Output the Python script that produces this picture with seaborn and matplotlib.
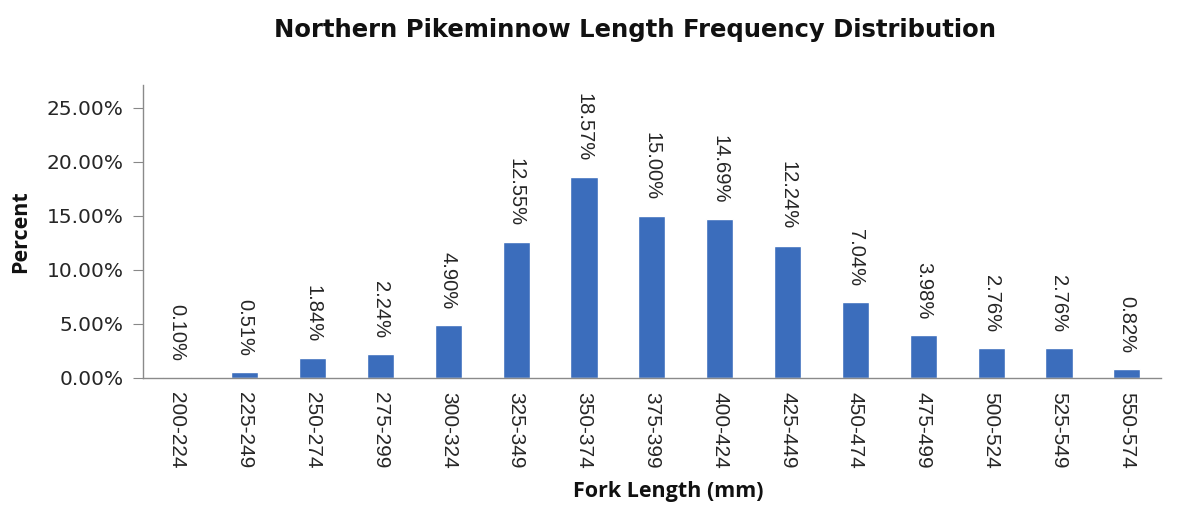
import matplotlib
matplotlib.use("Agg")
import matplotlib.pyplot as plt
import seaborn as sns
import pandas as pd

categories = ["200-224", "225-249", "250-274", "275-299", "300-324", "325-349", "350-374",
              "375-399", "400-424", "425-449", "450-474", "475-499", "500-524", "525-549", "550-574"]
percents = [0.10, 0.51, 1.84, 2.24, 4.90, 12.55, 18.57, 15.00, 14.69, 12.24, 7.04, 3.98, 2.76, 2.76, 0.82]
y_ticks = [0, 5, 10, 15, 20, 25]

sns.set_theme(style="white")
plt.rcParams['font.family'] = ['Liberation Sans', 'DejaVu Sans']

df = pd.DataFrame({"cat": categories, "pct": percents})
fig = plt.figure(figsize=(11.82, 5.08), dpi=100)
ax = fig.add_axes([0.121, 0.256, 0.861, 0.577])
sns.barplot(data=df, x="cat", y="pct", color="#3B6DBC", width=0.4, ax=ax, saturation=1)

for i, v in enumerate(percents):
    ax.annotate(f"{v:.2f}%", xy=(i, v), xytext=(0, 11.5), textcoords="offset points",
                rotation=270, ha="center", va="bottom", fontsize=14.5, color="#262626")

ax.set_ylim(0, 27.1)
ax.set_xlim(-0.5, len(categories) - 0.5)
ax.set_yticks(y_ticks)
ax.set_yticklabels([f"{t:.2f}%" for t in y_ticks], fontsize=14.5, color="#262626",
                   family="DejaVu Sans")
ax.set_xticks(range(len(categories)))
ax.set_xticklabels(categories, rotation=270, fontsize=15, color="#262626")
ax.tick_params(axis="y", length=7, color="#888888", left=True, width=0.8, pad=7)
ax.tick_params(axis="x", length=0, pad=10)
for s in ["top", "right"]:
    ax.spines[s].set_visible(False)
for s in ["left", "bottom"]:
    ax.spines[s].set_color("#8a8a8a")
    ax.spines[s].set_linewidth(1)

ax.set_xlabel("Fork Length (mm)", fontsize=15.5, fontweight="bold", labelpad=9,
              family="Open Sans", color="#111111")
ax.xaxis.label.set_x(0.516)
ax.set_ylabel("Percent", fontsize=15.5, fontweight="bold", labelpad=11,
              family="Open Sans", color="#111111")
fig.suptitle("Northern Pikeminnow Length Frequency Distribution", fontsize=17.5,
             fontweight="bold", x=0.537, y=0.965, family="DejaVu Sans", color="#111111")
fig.savefig("out.png", dpi=100, facecolor="white")
